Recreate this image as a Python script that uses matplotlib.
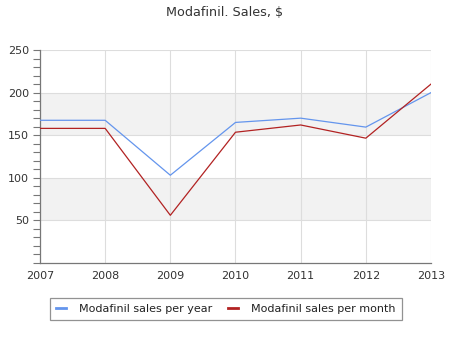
import matplotlib
matplotlib.use("Agg")
import matplotlib.pyplot as plt
from matplotlib.ticker import MultipleLocator

years = [2007, 2008, 2009, 2010, 2011, 2012, 2013]
sales_per_year = [167.5, 167.5, 103, 165, 170, 159.5, 200]
sales_per_month = [158, 158, 56, 153.5, 162, 146.5, 210]
title = "Modafinil. Sales, $"
series_labels = ["Modafinil sales per year", "Modafinil sales per month"]

fig = plt.figure(figsize=(4.5, 3.5), dpi=100)
ax = fig.add_axes([40/450, 1-263/350, (431-40)/450, (263-50)/350])

ax.set_xlim(years[0], years[-1])
ax.set_ylim(0, 250)

for lo, hi in [(50, 100), (150, 200)]:
    ax.axhspan(lo, hi, color="#f2f2f2", zorder=0, lw=0)

ax.set_xticks(years)
ax.set_xticklabels([str(y) for y in years])
ax.set_yticks([50, 100, 150, 200, 250])
ax.yaxis.set_minor_locator(MultipleLocator(10))
ax.grid(True, which="major", color="#dddddd", lw=0.8, zorder=1)

ax.plot(years, sales_per_year, color="#6495ED", lw=0.9, label=series_labels[0], zorder=3)
ax.plot(years, sales_per_month, color="#B22222", lw=0.9, label=series_labels[1], zorder=3)

for s in ["top", "right"]:
    ax.spines[s].set_visible(False)
for s in ["left", "bottom"]:
    ax.spines[s].set_color("#777777")
    ax.spines[s].set_linewidth(0.9)

ax.tick_params(axis="x", length=0, pad=6, labelsize=8, labelcolor="#333333")
ax.tick_params(axis="y", which="both", length=5, width=0.8, color="#777777",
               pad=3, labelsize=8, labelcolor="#333333")

fig.suptitle(title, x=0.5, y=1-12/350, va="center", fontsize=9.2, color="#333333")

leg = fig.legend(loc="center", bbox_to_anchor=(226/450, 1-309/350), ncol=2,
                 fontsize=8, frameon=True, fancybox=False, handlelength=0.9,
                 columnspacing=1.4, handletextpad=1.2, borderpad=0.55)
leg.get_frame().set_edgecolor("#777777")
leg.get_frame().set_linewidth(0.9)
for line in leg.get_lines():
    line.set_linewidth(2)
for t in leg.get_texts():
    t.set_color("#222222")

fig.savefig("out.png", dpi=100)
